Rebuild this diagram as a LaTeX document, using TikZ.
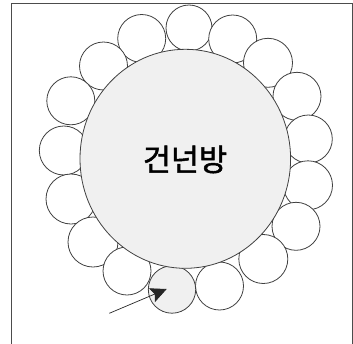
\documentclass[tikz,border=0pt]{standalone}
\usepackage{fontspec}
\newfontfamily\krfont{Noto Sans CJK KR}[FakeBold=1.6]
\usetikzlibrary{arrows.meta}
\begin{document}
\begin{tikzpicture}[x=1pt,y=-1pt,
  seat/.style={draw=black!75,line width=0.8pt,fill=white},
  seatgrey/.style={draw=black!75,line width=0.8pt,fill=black!6},
  table/.style={draw=black!75,line width=0.8pt,fill=black!6},
  frame/.style={draw=black!70,line width=0.9pt},
  pointer/.style={draw=black!85,line width=0.7pt,-{Stealth[length=16pt,width=15pt,inset=3pt]}}]
\useasboundingbox (0,0) rectangle (353,343);
\draw[frame] (11,346) -- (11,3) -- (352.3,3) -- (352.3,346);
% ring of small circles
\foreach \cx/\cy/\r in {189/28/23, 141.7/38.5/24, 232.7/39/24, 103.5/66/24, 268/62.8/24.5,
  70.8/100.8/24, 297/96.3/24, 63.8/150.5/24.5, 308.3/139/24, 71/199/25, 308/185.3/24.5,
  93/242/25, 296/226.3/24, 127/271/24, 263.3/259/24.5, 219.5/286/24}
  \path[seat] (\cx,\cy) circle[radius=\r pt];
\path[seatgrey] (172,289.5) circle[radius=23.7pt];
\coordinate (seat) at (172,289.5);
% big table
\path[table] (185.3,158.8) ellipse[x radius=105.3pt,y radius=109.5pt];
\node (room) at (185,159.5) {\krfont\fontsize{30.5}{32}\selectfont 건넌방};
\coordinate (from) at (109.3,313.3);
\coordinate (tip) at (166.7,289);
\draw[pointer] (from) -- (tip);
\end{tikzpicture}
\end{document}
